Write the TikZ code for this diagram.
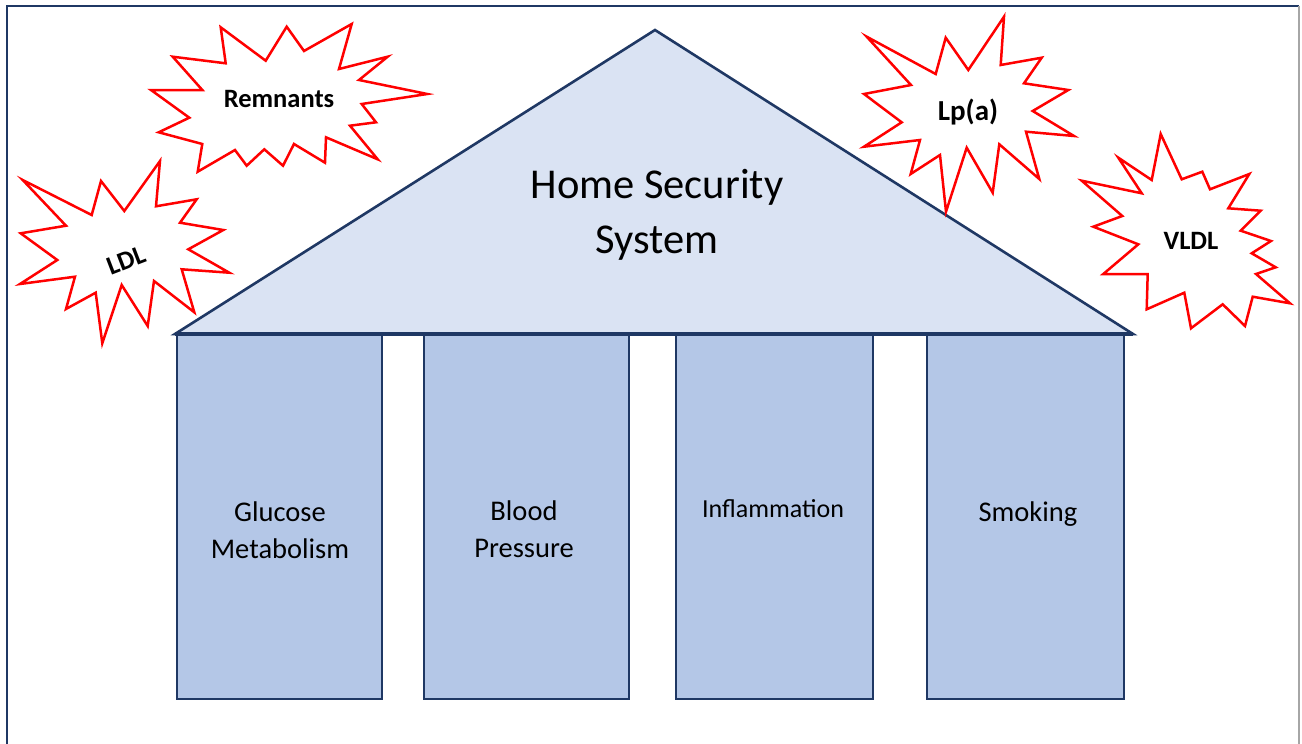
\documentclass[tikz,border=0pt]{standalone}
\usepackage{fontspec}
\setmainfont{Carlito}
\begin{document}
\begin{tikzpicture}[x=1pt,y=-1pt,
  navy/.style={draw=navyc, line width=2.6pt},
  pillar/.style={navy, fill=pillarc, minimum height=364pt, inner sep=0pt, line width=2.6pt},
  burst/.style={draw=red, line width=2.5pt, fill=white, line join=miter},
  pilltext/.style={font=\fontsize{28.5}{37}\selectfont, align=center, inner sep=0pt},
  bursttext/.style={font=\fontsize{26.5}{30}\selectfont\bfseries, inner sep=0pt}]
\definecolor{navyc}{HTML}{1F3864}
\definecolor{roofc}{HTML}{DAE3F3}
\definecolor{pillarc}{HTML}{B4C7E7}
\definecolor{grayc}{HTML}{A6A6A6}
\useasboundingbox (0,0) rectangle (1302,744);
\fill[white] (0,0) rectangle (1302,744);
% frame
\coordinate (fbl) at (7,746);
\coordinate (ftl) at (7,6);
\coordinate (ftr) at (1299,6);
\coordinate (fbr) at (1299,746);
\draw[navyc, line width=2.5pt] (fbl) -- (ftl) -- (ftr);
\draw[grayc, line width=2pt] (ftr) -- (fbr);
% pillars
\node[pillar, minimum width=205pt] (p1) at (279.5,517) {};
\node[pillar, minimum width=205pt] (p2) at (526.5,517) {};
\node[pillar, minimum width=197pt] (p3) at (774.5,517) {};
\node[pillar, minimum width=197pt] (p4) at (1025.5,517) {};
\node[pilltext] (t1) at (280,530) {Glucose\\Metabolism};
\node[pilltext] (t2) at (524,529) {Blood\\Pressure};
\node[pilltext, font=\fontsize{26}{32}\selectfont] (t3) at (773,509) {Inflammation};
\node[pilltext] (t4) at (1028,514) {Smoking};
% roof
\coordinate (rl) at (175,334);
\coordinate (rt) at (655,30);
\coordinate (rr) at (1133,334);
\filldraw[navy, fill=roofc, line join=miter] (rl) -- (rt) -- (rr) -- cycle;
\draw[navyc, line width=4pt] (rl) -- (rr);
\node[font=\fontsize{42.5}{55}\selectfont, align=center, inner sep=0pt] (roof) at (657,215) {Home Security\\System};
% bursts
\draw[burst] (220.7,27.3) -- (265.7,60.7) -- (286.7,26.7) -- (304,51) -- (351.7,24) -- (339,69) -- (387.7,56.7) -- (359,80) -- (427.3,94) -- (361.7,104) -- (376,122.3) -- (350,125.7) -- (377.7,159.3) -- (326,137.3) -- (325,162.7) -- (294,144) -- (283,165.7) -- (264.3,149.3) -- (246.7,165.7) -- (235,150) -- (197.7,171.7) -- (202.3,144) -- (158.7,132.3) -- (189.3,117.7) -- (151,90) -- (202.3,90) -- (172.7,56.7) -- (225.7,63.3) -- cycle;
\node[bursttext] (rem) at (279,99) {Remnants};
\draw[burst] (160,161) -- (156,206.3) -- (196.7,199.3) -- (180,222.7) -- (223.3,230) -- (188.3,249.3) -- (229.3,272.7) -- (181.7,269.3) -- (194.3,312.3) -- (154,281) -- (147.7,326) -- (121.7,285) -- (102.3,343.3) -- (95.7,292.7) -- (66,309) -- (75,276.7) -- (20,284) -- (57.3,260) -- (20.7,233.3) -- (66,225.7) -- (22.7,180) -- (91.7,215) -- (101,181) -- (124.3,211) -- cycle;
\node[bursttext, rotate=21] (ldl) at (126,260) {LDL};
\draw[burst] (1004,16.7) -- (1000.7,65) -- (1041.7,57.7) -- (1024,83.3) -- (1068.3,90) -- (1032.7,111) -- (1074,136) -- (1026,131.7) -- (1039.3,179) -- (999.3,144.3) -- (992.7,192.7) -- (966.7,147.7) -- (946,211.7) -- (940,155) -- (910.7,174) -- (920,140) -- (864,146.7) -- (901.7,122.3) -- (864,94) -- (911,85) -- (866.7,36.7) -- (935.7,74) -- (945.7,37.7) -- (968.3,70) -- cycle;
\node[bursttext, font=\fontsize{29}{32}\selectfont\bfseries] (lpa) at (968,112) {Lp(a)};
\draw[burst] (1160.7,134) -- (1181.7,179.3) -- (1202.3,171.7) -- (1210,189.3) -- (1249.3,174) -- (1228.3,208.3) -- (1260.7,210.7) -- (1240.7,230.7) -- (1271,241) -- (1251.7,253.3) -- (1275.7,267.3) -- (1256,274) -- (1290,303.3) -- (1252.7,296.7) -- (1245,326) -- (1222.7,304.3) -- (1191,328.3) -- (1184.3,292.7) -- (1146.7,309.3) -- (1147.7,274) -- (1103.3,274) -- (1138.3,244.3) -- (1093.3,226.7) -- (1122.3,216) -- (1081.7,180.7) -- (1141.7,193.3) -- (1118.3,157.7) -- (1151.7,180) -- cycle;
\node[bursttext] (vldl) at (1191,241) {VLDL};
\end{tikzpicture}
\end{document}
